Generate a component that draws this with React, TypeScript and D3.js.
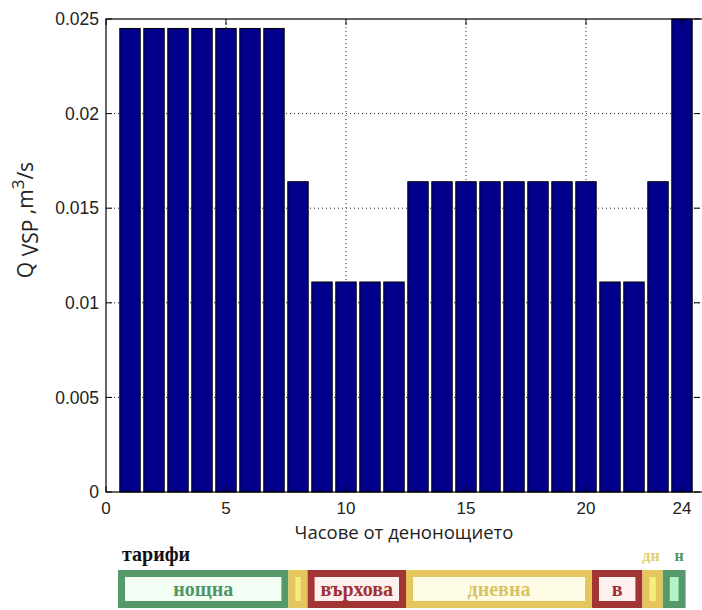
import React from "react";
import * as d3 from "d3";

const hours = [1,2,3,4,5,6,7,8,9,10,11,12,13,14,15,16,17,18,19,20,21,22,23,24];
const flow = [0.0245,0.0245,0.0245,0.0245,0.0245,0.0245,0.0245,0.0164,0.0111,0.0111,0.0111,0.0111,0.0164,0.0164,0.0164,0.0164,0.0164,0.0164,0.0164,0.0164,0.0111,0.0111,0.0164,0.025];
const xTicks = [0,5,10,15,20,24];
const xGrid = [5,10,15,20];
const yTicks = [0,0.005,0.01,0.015,0.02,0.025];
const yTickLabels = ["0","0.005","0.01","0.015","0.02","0.025"];

const tariffKind = ["night","day","peak","day","peak","day","night"];
const tariffLabel = ["нощна","","върхова","дневна","в","",""];
const tariffStart = [0.5,7.6,8.4,12.5,20.25,22.35,23.2];
const tariffEnd = [7.6,8.4,12.5,20.25,22.35,23.2,24.15];

const W = 702, H = 610;
const left = 106, top = 19, bottom = 492;

const palette: Record<string, {border: string; fill: string; smallFill: string; text: string}> = {
  night: { border: "#55996a", fill: "#f3fff5", smallFill: "#b5f3c6", text: "#4f9566" },
  day: { border: "#e5c65c", fill: "#fffce6", smallFill: "#f4ef7c", text: "#d8c466" },
  peak: { border: "#a33434", fill: "#fff0f0", smallFill: "#fff0f0", text: "#9e3232" },
};

export default function App() {
  const x = d3.scaleLinear().domain([0, 25]).range([left, 706]);
  const y = d3.scaleLinear().domain([0, 0.025]).range([bottom, top]);
  const bw = (x(1) - x(0)) * 0.85;
  const tick = 6;
  const sans = "'Liberation Sans', Arial, sans-serif";
  const open = "'Open Sans', 'DejaVu Sans', sans-serif";
  const serif = "'Liberation Serif', 'DejaVu Serif', serif";
  const tTop = 570, tBot = 608, bwid = 7;
  return (
    <svg width={W} height={H} style={{ position: "absolute", left: 0, top: 0, background: "#fff" }}>
      {yTicks.slice(1, -1).map((t, i) => (
        <line key={"gy" + i} x1={left} x2={706} y1={y(t)} y2={y(t)} stroke="#222" strokeWidth={1} strokeDasharray="1 3" />
      ))}
      {xGrid.map((t, i) => (
        <line key={"gx" + i} x1={x(t)} x2={x(t)} y1={top} y2={bottom} stroke="#222" strokeWidth={1} strokeDasharray="1 3" />
      ))}
      {hours.map((h, i) => (
        <rect key={"b" + i} x={x(h) - bw / 2} y={y(flow[i])} width={bw} height={y(0) - y(flow[i])} fill="#00008c" stroke="#000" strokeWidth={1} />
      ))}
      <rect x={left} y={top} width={706 - left} height={bottom - top} fill="none" stroke="#000" strokeWidth={1.2} />
      {yTicks.map((t, i) => (
        <g key={"yt" + i}>
          <line x1={left} x2={left + tick} y1={y(t)} y2={y(t)} stroke="#000" />
          <line x1={700 - tick} x2={700} y1={y(t)} y2={y(t)} stroke="#000" />
          <text x={left - 7} y={y(t)} dy="0.35em" textAnchor="end" fontFamily={sans} fontSize={17.5} fill="#222">{yTickLabels[i]}</text>
        </g>
      ))}
      {xTicks.map((t, i) => (
        <g key={"xt" + i}>
          <line x1={x(t)} x2={x(t)} y1={bottom} y2={bottom - tick} stroke="#000" />
          <line x1={x(t)} x2={x(t)} y1={top} y2={top + tick} stroke="#000" />
          <text x={x(t)} y={514} textAnchor="middle" fontFamily={sans} fontSize={17} fill="#222">{t}</text>
        </g>
      ))}
      <text x={404} y={539} textAnchor="middle" fontFamily={open} fontSize={18.5} fill="#222">Часове от денонощието</text>
      <text transform="translate(33,220) rotate(-90)" textAnchor="middle" fontFamily={open} fontSize={21} fill="#222">
        <tspan>Q </tspan>
        <tspan dy={5}>VSP</tspan>
        <tspan dy={-5}> ,m</tspan>
        <tspan dy={-9} fontSize={17}>3</tspan>
        <tspan dy={9}>/s</tspan>
      </text>
      <text x={122} y={561} fontFamily={serif} fontWeight="bold" fontSize={20} fill="#111">тарифи</text>
      <text x={651} y={561} textAnchor="middle" fontFamily={serif} fontWeight="bold" fontSize={16} fill="#e2cf6e">дн</text>
      <text x={679} y={561} textAnchor="middle" fontFamily={serif} fontWeight="bold" fontSize={16} fill="#4f9566">н</text>
      {tariffKind.map((k, i) => {
        const p = palette[k];
        const x0 = x(tariffStart[i]);
        const x1 = x(tariffEnd[i]);
        const small = x1 - x0 < 30;
        return (
          <g key={"tr" + i}>
            <rect x={x0} y={tTop} width={x1 - x0} height={tBot - tTop} fill={p.border} />
            <rect x={x0 + bwid} y={tTop + bwid} width={Math.max(0, x1 - x0 - 2 * bwid)} height={tBot - tTop - 2 * bwid} fill={small ? p.smallFill : p.fill} />
            {tariffLabel[i] && (
              <text x={(x0 + x1) / 2} y={596} textAnchor="middle" fontFamily={serif} fontWeight="bold" fontSize={20} fill={p.text}>{tariffLabel[i]}</text>
            )}
          </g>
        );
      })}
    </svg>
  );
}
